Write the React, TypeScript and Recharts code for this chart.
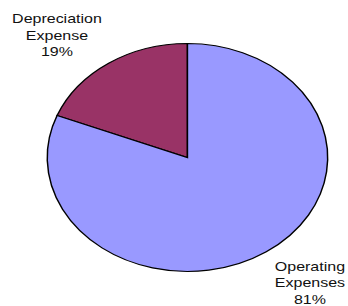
import { Cell, Pie, PieChart } from "recharts"

const categories = ["Depreciation Expense", "Operating Expenses"]
const values = [19, 81]
const colors = ["#993366", "#9999FF"]

const data = categories.map((name, i) => ({ name, value: values[i] }))

const RAD = Math.PI / 180

function renderLabel(props: any) {
  const { cx, cy, midAngle, outerRadius, name, percent } = props
  const cos = Math.cos(-midAngle * RAD)
  const sin = Math.sin(-midAngle * RAD)
  const px = cx + outerRadius * cos
  const py = cy + outerRadius * sin
  const lines = [...String(name).split(" "), `${Math.round(percent * 100)}%`]
  const lineH = 16.6
  const lx = px + (cos >= 0 ? 35.5 : -42)
  const firstBase = sin < 0 ? py - 7 - lineH * (lines.length - 1) : py + 19
  return (
    <text
      x={lx}
      y={firstBase}
      textAnchor="middle"
      fill="#111"
      fontFamily="'Liberation Sans', Arial, sans-serif"
      fontSize={13}
    >
      {lines.map((line, i) => (
        <tspan key={i} x={lx} y={firstBase + i * lineH}>
          {line}
        </tspan>
      ))}
    </text>
  )
}

export default function App() {
  return (
    <div
      style={{
        position: "absolute",
        left: 0,
        top: 0,
        width: 283,
        height: 306,
        transform: "scaleX(1.23)",
        transformOrigin: "0 0",
        background: "#fff",
      }}
    >
      <PieChart width={283} height={306} margin={{ top: 0, right: 0, bottom: 0, left: 0 }}>
        <Pie
          data={data}
          dataKey="value"
          nameKey="name"
          cx={152.4}
          cy={157.5}
          outerRadius={114}
          startAngle={90}
          endAngle={450}
          stroke="#000"
          strokeWidth={1.2}
          labelLine={false}
          label={renderLabel}
          isAnimationActive={false}
        >
          {data.map((d, i) => (
            <Cell key={d.name} fill={colors[i]} />
          ))}
        </Pie>
      </PieChart>
    </div>
  )
}
